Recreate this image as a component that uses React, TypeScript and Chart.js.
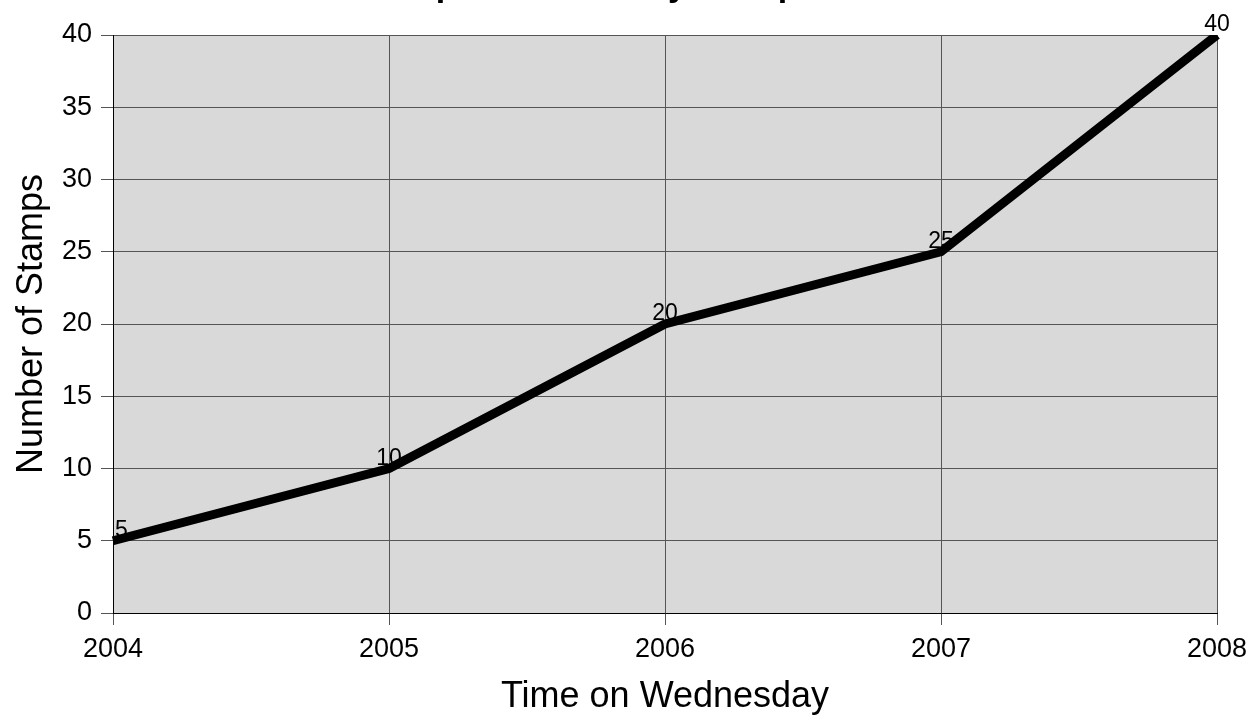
import React, { useEffect, useRef } from "react";
import { Chart, registerables } from "chart.js";

Chart.register(...registerables);

const years: string[] = ["2004", "2005", "2006", "2007", "2008"];
const stamps: number[] = [5, 10, 20, 25, 40];
const chartTitle = "Stamps Collected by Group Totals";
const xTitle = "Time on Wednesday";
const yTitle = "Number of Stamps";

const FONT = '"Liberation Sans", Arial, Helvetica, sans-serif';

const plotBg = {
  id: "plotBg",
  beforeDraw(chart: any) {
    const { ctx, chartArea: a } = chart;
    ctx.save();
    ctx.fillStyle = "#d9d9d9";
    ctx.fillRect(a.left, a.top, a.right - a.left, a.bottom - a.top);
    ctx.restore();
  },
};

const topTitle = {
  id: "topTitle",
  afterDraw(chart: any) {
    const { ctx } = chart;
    ctx.save();
    ctx.font = `bold 34px ${FONT}`;
    ctx.fillStyle = "#000";
    ctx.textAlign = "center";
    ctx.textBaseline = "alphabetic";
    ctx.fillText(chartTitle, chart.width / 2 + 4, -4);
    ctx.restore();
  },
};

const valueLabels = {
  id: "valueLabels",
  afterDatasetsDraw(chart: any) {
    const { ctx, chartArea: a } = chart;
    const meta = chart.getDatasetMeta(0);
    ctx.save();
    ctx.font = `23px ${FONT}`;
    ctx.fillStyle = "#000";
    ctx.textAlign = "center";
    ctx.textBaseline = "alphabetic";
    meta.data.forEach((pt: any, i: number) => {
      const txt = String(stamps[i]);
      const w = ctx.measureText(txt).width;
      const x = Math.max(pt.x, a.left + w / 2 + 2);
      ctx.fillText(txt, x, pt.y - 4);
    });
    ctx.restore();
  },
};

export default function App() {
  const ref = useRef<HTMLCanvasElement | null>(null);

  useEffect(() => {
    if (!ref.current) return;
    Chart.defaults.font.family = FONT;
    const chart = new Chart(ref.current, {
      type: "line",
      data: {
        labels: years,
        datasets: [
          {
            data: stamps,
            borderColor: "#000",
            borderWidth: 9,
            pointRadius: 0,
            tension: 0,
            fill: false,
          },
        ],
      },
      options: {
        animation: false,
        responsive: false,
        devicePixelRatio: 1,
        layout: { padding: { top: 35, right: 33, left: 0, bottom: 0 } },
        plugins: {
          legend: { display: false },
          tooltip: { enabled: false },
          title: { display: false },
        },
        scales: {
          x: {
            type: "category",
            offset: false,
            afterFit(scale: any) {
              scale.height = 102;
              scale.paddingLeft = 0;
              scale.paddingRight = 0;
            },
            grid: {
              offset: false,
              color: "#555",
              lineWidth: 1,
              tickLength: 12,
              tickColor: "#555",
            },
            border: { display: true, color: "#000", width: 1 },
            ticks: {
              color: "#000",
              font: { size: 27 },
              padding: 8,
              maxRotation: 0,
              autoSkip: false,
            },
            title: {
              display: true,
              text: xTitle,
              color: "#000",
              font: { size: 36, lineHeight: 1 },
              padding: { top: -1, bottom: 0 },
            },
          },
          y: {
            min: 0,
            max: 40,
            afterFit(scale: any) {
              scale.width = 113;
              scale.paddingTop = 0;
              scale.paddingBottom = 0;
            },
            grid: {
              color: "#555",
              lineWidth: 1,
              tickLength: 12,
              tickColor: "#555",
            },
            border: { display: true, color: "#000", width: 1 },
            ticks: {
              stepSize: 5,
              color: "#000",
              font: { size: 27 },
              padding: 9,
            },
            title: {
              display: true,
              text: yTitle,
              color: "#000",
              font: { size: 36, lineHeight: 1 },
              padding: { top: 14, bottom: 0 },
            },
          },
        },
      },
      plugins: [plotBg, valueLabels, topTitle],
    });
    return () => chart.destroy();
  }, []);

  return (
    <div style={{ position: "fixed", left: 0, top: 0, width: 1250, height: 715, background: "#fff" }}>
      <canvas ref={ref} width={1250} height={715} style={{ width: 1250, height: 715, display: "block" }} />
    </div>
  );
}
